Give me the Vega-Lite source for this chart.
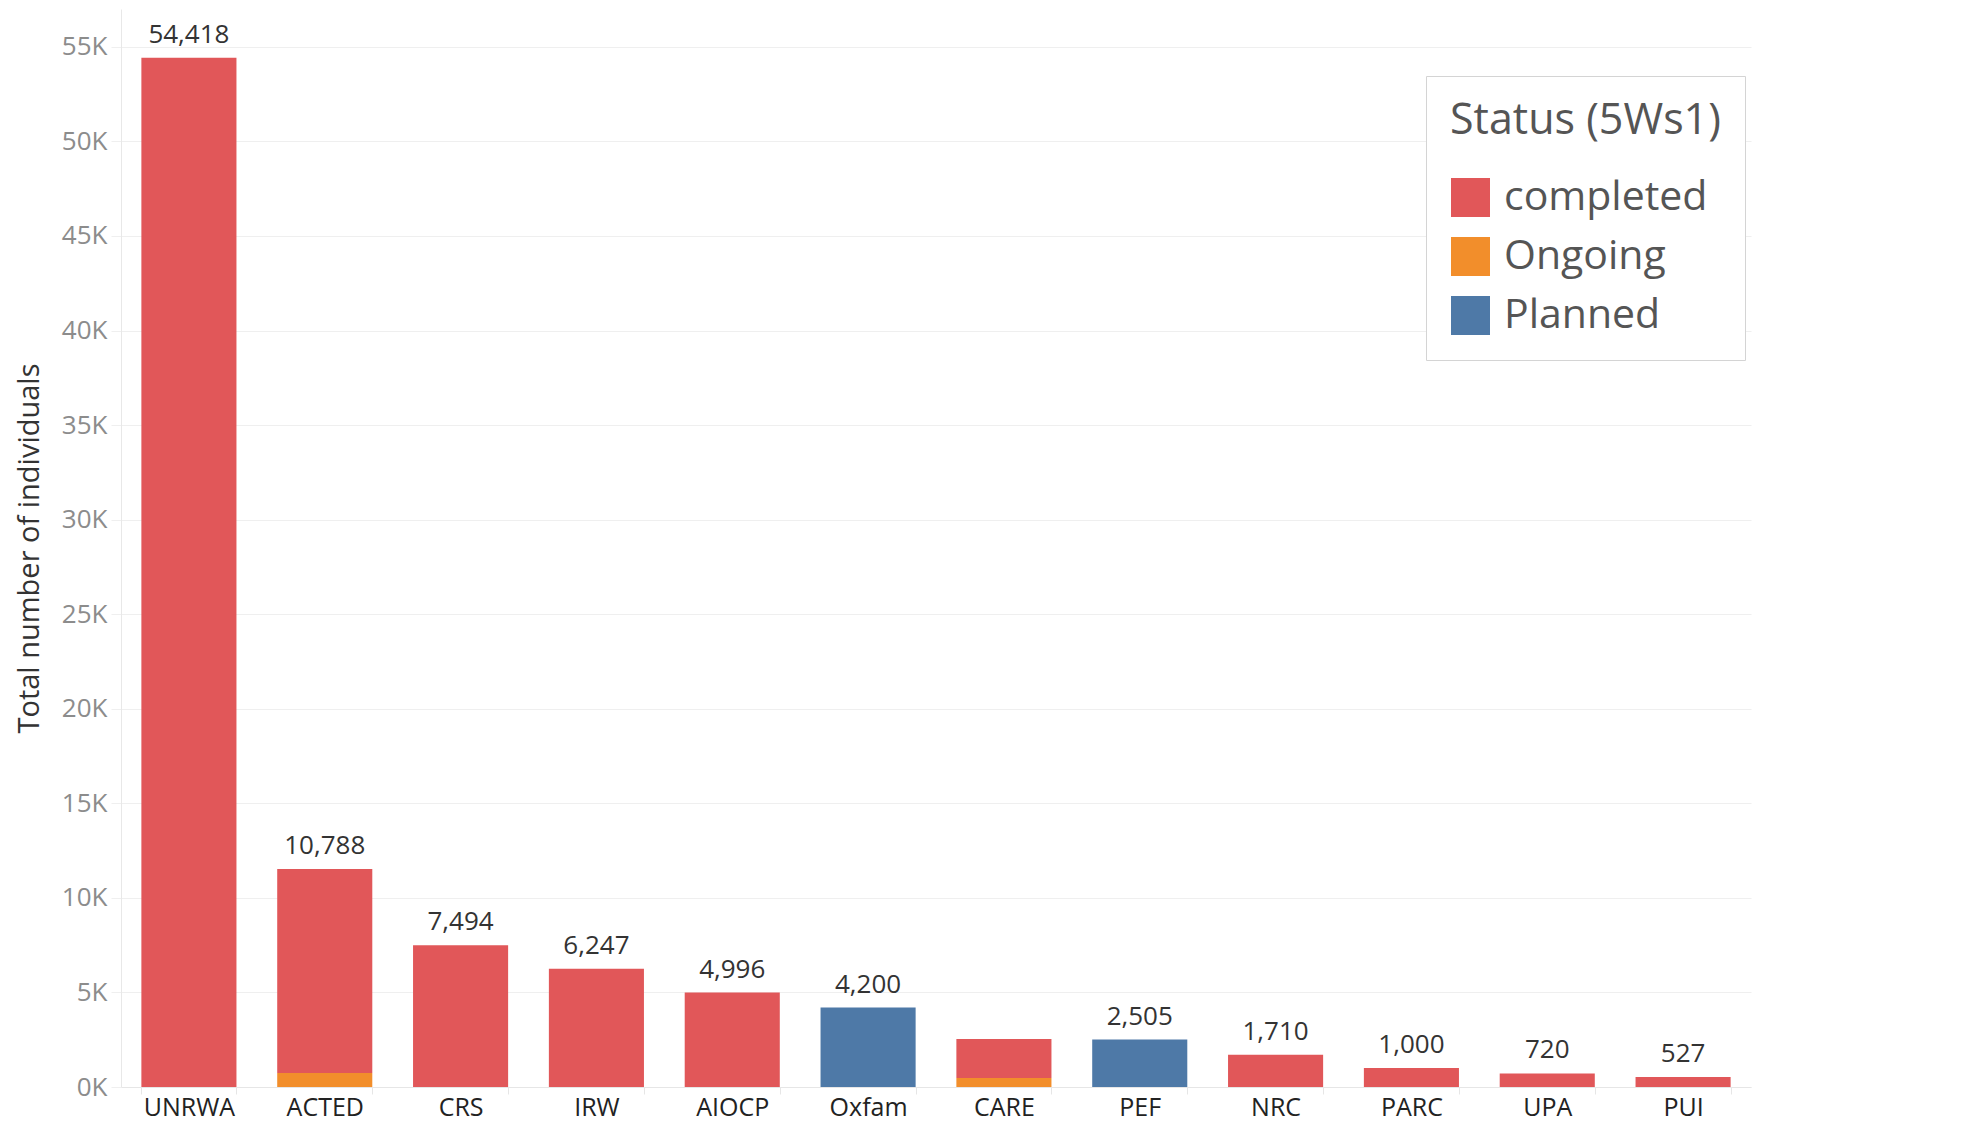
{
  "$schema": "https://vega.github.io/schema/vega-lite/v6.json",
  "autosize": "none",
  "padding": {"left": 121, "top": 9, "right": 211, "bottom": 37},
  "width": 1630,
  "height": 1078,
  "background": "white",
  "config": {
    "view": {"stroke": null},
    "font": "Open Sans"
  },
  "data": {
    "values": [
      {"org": "UNRWA", "status": "completed", "value": 54418},
      {"org": "ACTED", "status": "completed", "value": 10788},
      {"org": "ACTED", "status": "Ongoing", "value": 740},
      {"org": "CRS", "status": "completed", "value": 7494},
      {"org": "IRW", "status": "completed", "value": 6247},
      {"org": "AIOCP", "status": "completed", "value": 4996},
      {"org": "Oxfam", "status": "Planned", "value": 4200},
      {"org": "CARE", "status": "completed", "value": 2060},
      {"org": "CARE", "status": "Ongoing", "value": 480},
      {"org": "PEF", "status": "Planned", "value": 2505},
      {"org": "NRC", "status": "completed", "value": 1710},
      {"org": "PARC", "status": "completed", "value": 1000},
      {"org": "UPA", "status": "completed", "value": 720},
      {"org": "PUI", "status": "completed", "value": 527}
    ]
  },
  "transform": [
    {"calculate": "datum.status === 'Ongoing' ? 0 : 1", "as": "stackOrder"},
    {"joinaggregate": [{"op": "sum", "field": "value", "as": "total"}], "groupby": ["org"]}
  ],
  "encoding": {
    "x": {
      "field": "org",
      "type": "nominal",
      "sort": ["UNRWA", "ACTED", "CRS", "IRW", "AIOCP", "Oxfam", "CARE", "PEF", "NRC", "PARC", "UPA", "PUI"],
      "scale": {"paddingInner": 0.3, "paddingOuter": 0.15},
      "axis": {
        "title": null,
        "labelAngle": 0,
        "labelFont": "Open Sans",
        "labelFontSize": 25,
        "labelColor": "#222222",
        "labelPadding": 1,
        "domainColor": "#e6e6e6",
        "tickColor": "#e6e6e6",
        "tickSize": 7,
        "tickBand": "extent",
        "grid": false
      }
    }
  },
  "layer": [
    {
      "mark": {"type": "bar"},
      "encoding": {
        "y": {
          "field": "value",
          "type": "quantitative",
          "aggregate": "sum",
          "stack": "zero",
          "scale": {"domain": [0, 57000], "nice": false},
          "axis": {
            "title": "Total number of individuals",
            "titleFont": "Open Sans",
            "titleFontSize": 29,
            "titleFontWeight": "normal",
            "titleColor": "#333333",
            "titlePadding": 17,
            "values": [0, 5000, 10000, 15000, 20000, 25000, 30000, 35000, 40000, 45000, 50000, 55000],
            "labelExpr": "(datum.value / 1000) + 'K'",
            "labelFont": "Open Sans",
            "labelFontSize": 26,
            "labelColor": "#8c8c8c",
            "labelPadding": 4,
            "gridColor": "#efefef",
            "domainColor": "#e8e8e8",
            "tickColor": "#efefef",
            "tickSize": 10
          }
        },
        "color": {
          "field": "status",
          "type": "nominal",
          "scale": {
            "domain": ["completed", "Ongoing", "Planned"],
            "range": ["#e15759", "#f28e2b", "#4e79a7"]
          },
          "legend": {
            "title": "Status (5Ws1)",
            "orient": "none",
            "legendX": 1305,
            "legendY": 67,
            "titleFont": "Open Sans",
            "titleFontSize": 43,
            "titleFontWeight": "normal",
            "titleColor": "#555555",
            "titlePadding": 34,
            "titleLimit": 800,
            "labelFont": "Open Sans",
            "labelFontSize": 41,
            "labelColor": "#555555",
            "labelLimit": 800,
            "labelOffset": 13,
            "symbolType": "square",
            "symbolSize": 1521,
            "symbolStrokeWidth": 0,
            "rowPadding": 17,
            "padding": 24,
            "fillColor": "white",
            "strokeColor": "#d4d4d4"
          }
        },
        "order": {"field": "stackOrder", "type": "quantitative", "sort": "ascending"}
      }
    },
    {
      "transform": [
        {"filter": "datum.status !== 'Ongoing' && datum.org !== 'CARE'"}
      ],
      "mark": {"type": "text", "baseline": "alphabetic", "dy": -15, "font": "Open Sans", "fontSize": 26, "color": "#333333"},
      "encoding": {
        "y": {"field": "total", "type": "quantitative"},
        "text": {"field": "value", "type": "quantitative", "format": ","}
      }
    }
  ]
}
